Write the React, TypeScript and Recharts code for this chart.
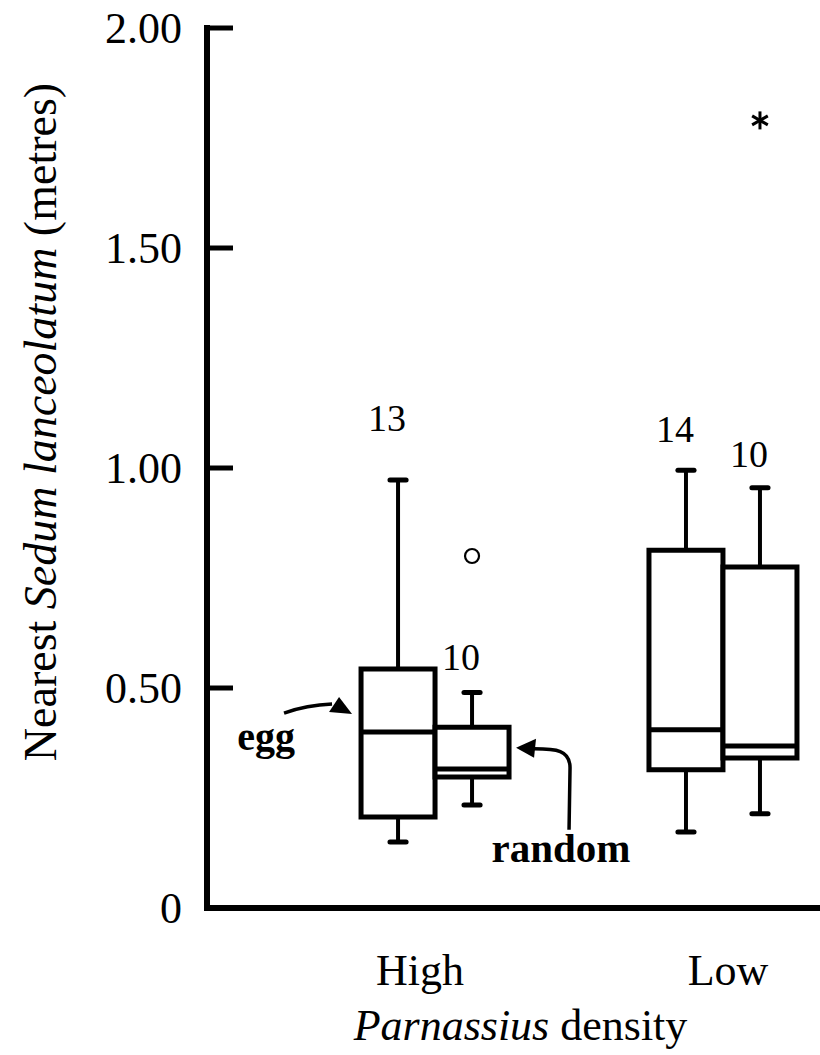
import React from "react";
import { ComposedChart, XAxis, YAxis, Scatter, ReferenceArea, ReferenceLine } from "recharts";

// Parnassius density groups
const densities = ["High", "Low"];

// sample sizes
const nEgg = [13, 14];
const nRandom = [10, 10];

// egg sites: distance to nearest Sedum (m)
const eggMin = [0.15, 0.173];
const eggQ1 = [0.207, 0.314];
const eggMedian = [0.4, 0.405];
const eggQ3 = [0.543, 0.813];
const eggMax = [0.973, 0.995];

// random sites
const randomMin = [0.234, 0.214];
const randomQ1 = [0.298, 0.341];
const randomMedian = [0.316, 0.368];
const randomQ3 = [0.411, 0.775];
const randomMax = [0.49, 0.955];

// outliers (random sites)
const circleOutlier = [0.8, null];
const starOutlier = [null, 1.79];

const yTicks = [0, 0.5, 1, 1.5, 2];

const FONT = "'Liberation Serif', 'Times New Roman', serif";
const BOX_W = 0.257;
const CAP = 0.028;
const X_DOMAIN = [0.208, 2.337];
const xLabelShift = [-15, 5];
const nLabelRise = [62, 36, 42, 34];

type Box = {
  key: string;
  x0: number;
  x1: number;
  xc: number;
  min: number;
  q1: number;
  med: number;
  q3: number;
  max: number;
  n: number;
};

const boxes: Box[] = [];
densities.forEach((_, g) => {
  const c = g + 1;
  boxes.push({
    key: `egg-${g}`, x0: c - BOX_W, x1: c, xc: c - BOX_W / 2,
    min: eggMin[g], q1: eggQ1[g], med: eggMedian[g], q3: eggQ3[g], max: eggMax[g], n: nEgg[g],
  });
  boxes.push({
    key: `random-${g}`, x0: c, x1: c + BOX_W, xc: c + BOX_W / 2,
    min: randomMin[g], q1: randomQ1[g], med: randomMedian[g], q3: randomQ3[g], max: randomMax[g], n: nRandom[g],
  });
});

const nLabels = boxes.map((b, i) => ({ x: b.xc, y: b.max, n: b.n, rise: nLabelRise[i] }));

const circles = densities
  .map((_, g) => ({ x: g + 1 + BOX_W / 2, y: circleOutlier[g] }))
  .filter((d) => d.y !== null);
const stars = densities
  .map((_, g) => ({ x: g + 1 + BOX_W / 2, y: starOutlier[g] }))
  .filter((d) => d.y !== null);

// arrow tips for the two annotations
const annotations = [
  { x: 1 - BOX_W, y: 0.443, kind: "egg" },
  { x: 1 + BOX_W, y: 0.364, kind: "random" },
];

const YTick = (props: any) => {
  const { x, y, payload } = props;
  const v = payload.value;
  return (
    <g>
      <text x={x} y={y} dy="0.35em" textAnchor="end" fontSize={44} fontFamily={FONT} fill="#000">
        {v === 0 ? "0" : v.toFixed(2)}
      </text>
      {v > 0 && <line x1={x + 25} x2={x + 51} y1={y} y2={y} stroke="#000" strokeWidth={5} />}
    </g>
  );
};

const XTick = (props: any) => {
  const { x, y, payload, index } = props;
  return (
    <text x={x + xLabelShift[index]} y={y + 77} textAnchor="middle" fontSize={44} fontFamily={FONT} fill="#000">
      {densities[payload.value - 1]}
    </text>
  );
};

const NLabel = (props: any) => {
  const { cx, cy, payload } = props;
  return (
    <text x={cx - 11} y={cy - payload.rise} dy="0.35em" textAnchor="middle" fontSize={38} fontFamily={FONT} fill="#000">
      {payload.n}
    </text>
  );
};

const Circle = (props: any) => (
  <circle cx={props.cx} cy={props.cy} r={7} fill="#fff" stroke="#000" strokeWidth={2.2} />
);

const Star = (props: any) => {
  const { cx, cy } = props;
  const r = 9;
  return (
    <g stroke="#000" strokeWidth={3}>
      <line x1={cx} y1={cy - r} x2={cx} y2={cy + r} />
      <line x1={cx - r * 0.87} y1={cy - r / 2} x2={cx + r * 0.87} y2={cy + r / 2} />
      <line x1={cx - r * 0.87} y1={cy + r / 2} x2={cx + r * 0.87} y2={cy - r / 2} />
    </g>
  );
};

const Annotation = (props: any) => {
  const { cx, cy, payload } = props;
  if (payload.kind === "egg") {
    const tx = cx - 9;
    return (
      <g>
        <path d={`M${tx - 68},${cy} Q${tx - 45},${cy - 8} ${tx - 20},${cy - 9}`} fill="none" stroke="#000" strokeWidth={3.5} />
        <path d={`M${tx},${cy + 1} L${tx - 13},${cy - 16} L${tx - 23},${cy - 1} Z`} fill="#000" />
        <text x={tx - 57} y={cy + 37} textAnchor="end" fontSize={40} fontWeight="bold" fontFamily={FONT} fill="#000">
          egg
        </text>
      </g>
    );
  }
  const tx = cx + 7;
  return (
    <g>
      <path
        d={`M${tx + 18},${cy + 1} C${tx + 40},${cy + 1} ${tx + 54},${cy + 2} ${tx + 54},${cy + 20} L${tx + 53},${cy + 82}`}
        fill="none"
        stroke="#000"
        strokeWidth={3.5}
      />
      <path d={`M${tx},${cy} L${tx + 20},${cy - 9} L${tx + 18},${cy + 10} Z`} fill="#000" />
      <text x={tx + 45} y={cy + 114} textAnchor="middle" fontSize={41} fontWeight="bold" fontFamily={FONT} fill="#000">
        random
      </text>
    </g>
  );
};

export default function App() {
  return (
    <div style={{ position: "absolute", left: 0, top: 0 }}>
      <ComposedChart width={820} height={1055} margin={{ top: 28, right: 0, bottom: 0, left: 0 }}>
        <XAxis
          dataKey="x"
          type="number"
          domain={X_DOMAIN}
          ticks={[1, 2]}
          allowDataOverflow
          height={147}
          tickSize={0}
          tickMargin={0}
          tickLine={false}
          axisLine={{ stroke: "#000", strokeWidth: 6, strokeLinecap: "square" }}
          tick={<XTick />}
          label={{
            content: (p: any) => {
              const vb = p.viewBox;
              return (
                <text x={vb.x + vb.width / 2 + 7} y={vb.y + 132} textAnchor="middle" fontSize={44} fontFamily={FONT} fill="#000">
                  <tspan fontStyle="italic">Parnassius</tspan> density
                </text>
              );
            },
          }}
        />
        <YAxis
          type="number"
          domain={[0, 2]}
          ticks={yTicks}
          width={207}
          tickSize={0}
          tickMargin={25}
          tickLine={false}
          axisLine={{ stroke: "#000", strokeWidth: 6, strokeLinecap: "square" }}
          tick={<YTick />}
          label={{
            content: (p: any) => {
              const vb = p.viewBox;
              const cx = 40;
              const cy = vb.y + vb.height / 2 - 46;
              return (
                <text x={cx} y={cy} dy="0.35em" transform={`rotate(-90, ${cx}, ${cy})`} textAnchor="middle" fontSize={46} fontFamily={FONT} fill="#000">
                  Nearest <tspan fontStyle="italic">Sedum lanceolatum</tspan> (metres)
                </text>
              );
            },
          }}
        />

        {boxes.map((b) => (
          <ReferenceLine key={`wu-${b.key}`} segment={[{ x: b.xc, y: b.q3 }, { x: b.xc, y: b.max }]} stroke="#000" strokeWidth={4} />
        ))}
        {boxes.map((b) => (
          <ReferenceLine key={`wl-${b.key}`} segment={[{ x: b.xc, y: b.min }, { x: b.xc, y: b.q1 }]} stroke="#000" strokeWidth={4} />
        ))}
        {boxes.map((b) => (
          <ReferenceLine key={`cu-${b.key}`} segment={[{ x: b.xc - CAP, y: b.max }, { x: b.xc + CAP, y: b.max }]} stroke="#000" strokeWidth={5} strokeLinecap="round" />
        ))}
        {boxes.map((b) => (
          <ReferenceLine key={`cl-${b.key}`} segment={[{ x: b.xc - CAP, y: b.min }, { x: b.xc + CAP, y: b.min }]} stroke="#000" strokeWidth={5} strokeLinecap="round" />
        ))}
        {boxes.map((b) => (
          <ReferenceArea key={`box-${b.key}`} x1={b.x0} x2={b.x1} y1={b.q1} y2={b.q3} stroke="#000" strokeWidth={5} fill="#fff" fillOpacity={1} />
        ))}
        {boxes.map((b) => (
          <ReferenceLine key={`md-${b.key}`} segment={[{ x: b.x0, y: b.med }, { x: b.x1, y: b.med }]} stroke="#000" strokeWidth={5} />
        ))}

        <Scatter data={nLabels} dataKey="y" shape={<NLabel />} isAnimationActive={false} />
        <Scatter data={circles} dataKey="y" shape={<Circle />} isAnimationActive={false} />
        <Scatter data={stars} dataKey="y" shape={<Star />} isAnimationActive={false} />
        <Scatter data={annotations} dataKey="y" shape={<Annotation />} isAnimationActive={false} />
      </ComposedChart>
    </div>
  );
}
